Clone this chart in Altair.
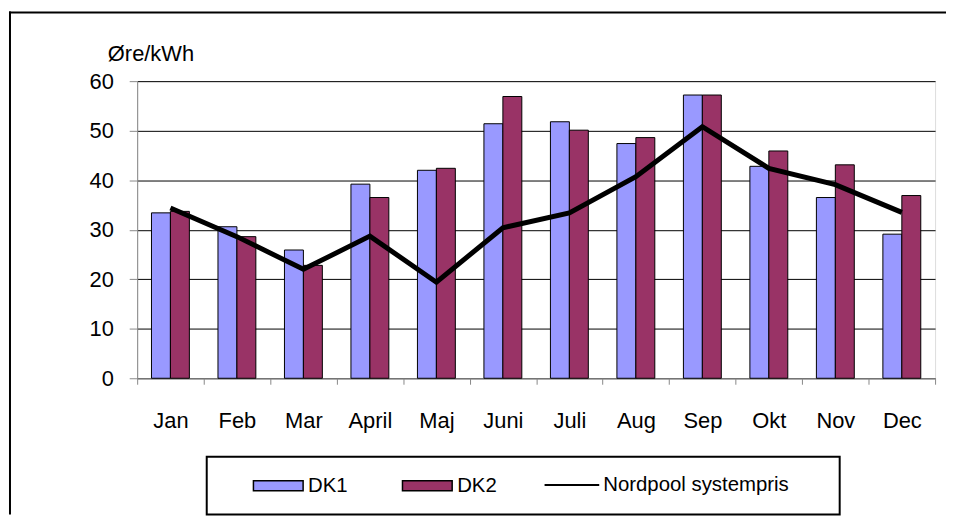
import altair as alt
import pandas as pd

# ---- data ----
months = ["Jan", "Feb", "Mar", "April", "Maj", "Juni", "Juli", "Aug", "Sep", "Okt", "Nov", "Dec"]
dk1 = [33.4, 30.6, 25.9, 39.2, 42.0, 51.4, 51.8, 47.4, 57.2, 42.8, 36.5, 29.1]
dk2 = [33.7, 28.6, 22.8, 36.5, 42.4, 56.9, 50.1, 48.6, 57.2, 45.9, 43.1, 36.9]
nordpool = [34.4, 28.6, 22.0, 28.7, 19.4, 30.4, 33.4, 40.7, 50.8, 42.4, 39.1, 33.5]
bar_series = ["DK1", "DK2"]
line_series = "Nordpool systempris"
bar_colors = ["#9999FF", "#993366"]
y_ticks = [0, 10, 20, 30, 40, 50, 60]
y_title = "Øre/kWh"

bars_df = pd.DataFrame({
    "month": months * 2,
    "series": [bar_series[0]] * len(months) + [bar_series[1]] * len(months),
    "value": dk1 + dk2,
})
line_df = pd.DataFrame({"month": months, "series": line_series, "value": nordpool})

FONT = "Liberation Sans"
W, H = 803, 299

x_enc = alt.X(
    "month:N", sort=months,
    scale=alt.Scale(paddingInner=0, paddingOuter=0),
    axis=alt.Axis(title=None, tickBand="extent", labelAngle=0, labelFontSize=22,
                  labelPadding=27, tickSize=6, grid=False),
)
y_enc = alt.Y(
    "value:Q",
    scale=alt.Scale(domain=[0, 60], nice=False),
    axis=alt.Axis(values=y_ticks, title=y_title, titleAngle=0, titleAlign="left",
                  titleBaseline="alphabetic", titleX=-30, titleY=-21,
                  titleFontWeight="normal", titleFontSize=22, labelFontSize=22,
                  labelPadding=16, tickSize=8, grid=True, gridColor="black",
                  gridOpacity=1, gridWidth=1),
)

bars = alt.Chart(bars_df).mark_bar(stroke="black", strokeWidth=1).encode(
    x=x_enc,
    xOffset=alt.XOffset("series:N", sort=bar_series,
                        scale=alt.Scale(paddingInner=0, paddingOuter=0.755)),
    y=y_enc,
    fill=alt.Fill("series:N", sort=bar_series,
                  scale=alt.Scale(domain=bar_series, range=bar_colors),
                  legend=alt.Legend(title=None, orient="none", legendX=116, legendY=381,
                                    direction="horizontal",
                                    symbolType="M-1,-0.2H1V0.2H-1Z", symbolSize=2500,
                                    symbolStrokeColor="black", symbolStrokeWidth=1.5,
                                    symbolOpacity=1, labelFontSize=20.5, labelOffset=4,
                                    labelLimit=0, columnPadding=52)),
)

line = alt.Chart(line_df).mark_line(strokeWidth=5).encode(
    x=alt.X("month:N", sort=months),
    y=alt.Y("value:Q"),
    stroke=alt.Stroke("series:N",
                      scale=alt.Scale(domain=[line_series], range=["black"]),
                      legend=alt.Legend(title=None, orient="none", legendX=409, legendY=378,
                                        direction="horizontal", symbolType="M-1,0H1",
                                        symbolSize=3025, symbolStrokeWidth=2,
                                        symbolOpacity=1, labelFontSize=20.5, labelOffset=3,
                                        labelLimit=0)),
)

one = alt.Data(values=[{"k": 0}])
border_top = alt.Chart(one).mark_rule(stroke="black", strokeWidth=2).encode(
    x=alt.value(-129), x2=alt.value(814), y=alt.value(-69))
border_left = alt.Chart(one).mark_rule(stroke="black", strokeWidth=2).encode(
    x=alt.value(-128), y=alt.value(-70), y2=alt.value(436))
legend_box = alt.Chart(one).mark_rect(stroke="black", strokeWidth=2, fillOpacity=0).encode(
    x=alt.value(70), x2=alt.value(707), y=alt.value(378), y2=alt.value(436))

chart = alt.layer(bars, line, border_top, border_left, legend_box).properties(
    width=W, height=H,
    padding={"left": 0, "top": 1, "right": 0, "bottom": 0},
).configure_view(stroke=None).configure_axis(
    labelFont=FONT, titleFont=FONT, labelColor="black", titleColor="black",
    domainColor="black", tickColor="black", domainWidth=1, tickWidth=1,
).configure_legend(labelFont=FONT, labelColor="black").configure(font=FONT)

chart.save("out.html", embed_options={"renderer": "svg", "actions": False})
